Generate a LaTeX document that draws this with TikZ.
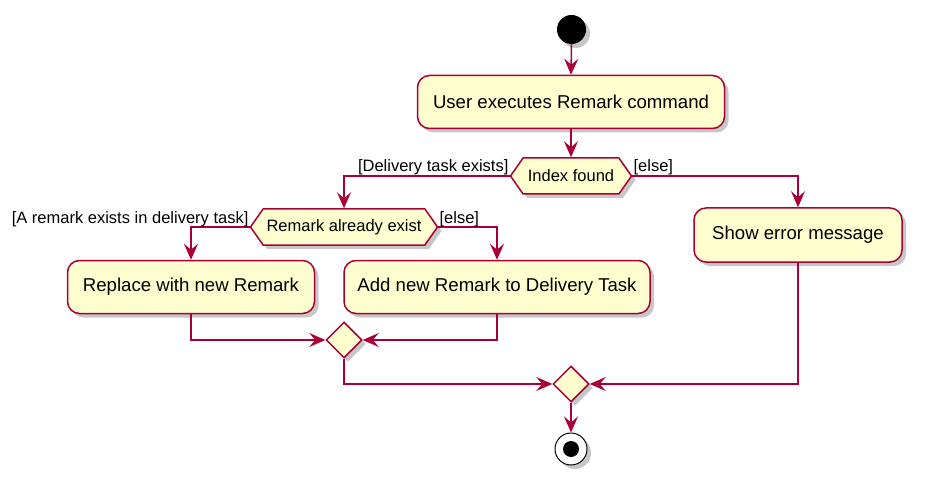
\documentclass[tikz,border=0pt]{standalone}
\usepackage{fontspec}
\setmainfont{Liberation Sans}
\usetikzlibrary{arrows.meta, positioning, shapes.geometric, shapes.symbols, shadows}
\definecolor{umlred}{HTML}{A80036}
\definecolor{umlfill}{HTML}{FEFECE}

\begin{document}
\begin{tikzpicture}[
  x=1pt, y=-1pt,
  shade/.style={drop shadow={shadow xshift=4pt, shadow yshift=-4pt,
    fill=black, opacity=0.22}},
  act/.style={draw=umlred, fill=umlfill, line width=1.5pt,
    rounded corners=12pt, minimum height=53pt, inner sep=0pt,
    font=\fontsize{18.6}{22}\selectfont, shade},
  cond/.style={signal, signal to=west and east, signal pointer angle=110,
    draw=umlred, fill=umlfill, line width=1.5pt, minimum height=36pt,
    inner sep=0pt, font=\fontsize{16.5}{20}\selectfont, shade},
  merge/.style={diamond, draw=umlred, fill=umlfill, line width=1.5pt,
    minimum width=36pt, minimum height=36pt, inner sep=0pt, shade},
  flow/.style={umlred, line width=1.5pt,
    -{Stealth[length=16pt, width=14pt, inset=6pt]}},
  guard/.style={font=\fontsize{16.5}{20}\selectfont, inner sep=0pt}
]
  \useasboundingbox (0,0) rectangle (926,489);

  % Start and first action
  \node[circle, fill=black, minimum size=29pt, inner sep=0pt, shade]
    (start) at (571.5,29.5) {};
  \node[act, minimum width=307pt] (exec) at (571,102)
    {User executes Remark command};
  \draw[flow] (start.south) -- (exec.north);

  % Index found
  \node[cond, minimum width=121pt] (idx) at (571,176) {Index found};
  \draw[flow] (exec.south) -- (idx.north);

  % Branches
  \node[cond, minimum width=187pt] (rem) at (344,227) {Remark already exist};
  \node[act, minimum width=208pt, minimum height=54pt] (err) at (798,235)
    {Show error message};
  \draw[flow] (idx.west) -| (rem.north);
  \draw[flow] (idx.east) -| (err.north);
  \node[guard, anchor=base east] (gdel) at ([shift={(-1,-4)}]idx.west)
    {[Delivery task exists]};
  \node[guard, anchor=base west] (gelse1) at ([shift={(1,-4)}]idx.east)
    {[else]};

  \node[act, minimum width=247pt] (rep) at (191,287)
    {Replace with new Remark};
  \node[act, minimum width=306pt] (add) at (497,287)
    {Add new Remark to Delivery Task};
  \draw[flow] (rem.west) -| (rep.north);
  \draw[flow] (rem.east) -| (add.north);
  \node[guard, anchor=base east] (gexist) at ([shift={(-1,-4)}]rem.west)
    {[A remark exists in delivery task]};
  \node[guard, anchor=base west] (gelse2) at ([shift={(1,-4)}]rem.east)
    {[else]};

  % Merges
  \node[merge] (m1) at (344,340) {};
  \draw[flow] (rep.south) |- (m1.west);
  \draw[flow] (add.south) |- (m1.east);

  \node[merge] (m2) at (571,384) {};
  \draw[flow] (m1.south) |- (m2.west);
  \draw[flow] (err.south) |- (m2.east);

  % End
  \node[circle, draw=black, fill=white, line width=1pt, minimum size=32pt,
    inner sep=0pt, shade] (stop) at (571,449) {};
  \fill (stop.center) circle (8pt);
  \draw[flow] (m2.south) -- (stop.north);
\end{tikzpicture}
\end{document}
